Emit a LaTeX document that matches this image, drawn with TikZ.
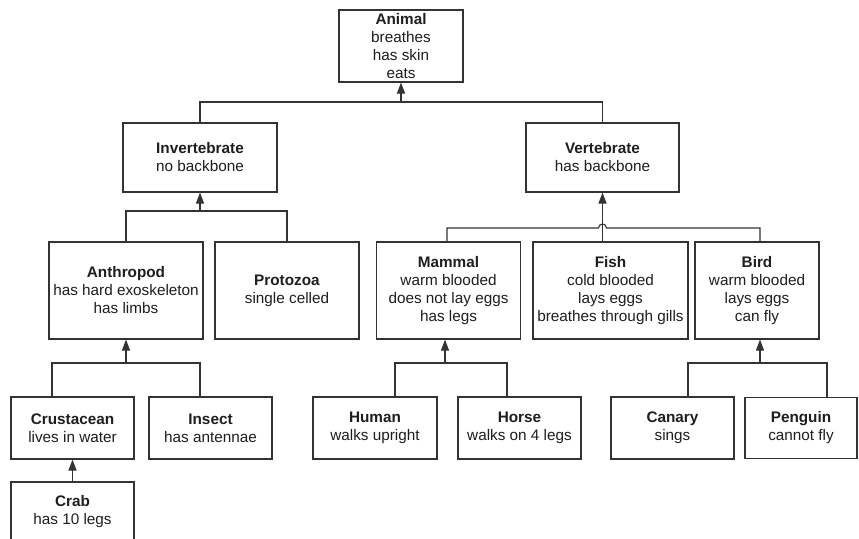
\documentclass[tikz,border=0pt]{standalone}
\usepackage{fontspec}
\setmainfont{Liberation Sans}
\usetikzlibrary{arrows.meta,calc}
\definecolor{linec}{HTML}{333333}
\definecolor{textc}{HTML}{1E1E1E}
\tikzset{
  box/.style={draw=linec, line width=1.1pt, align=center, inner sep=0pt,
    text=textc, font=\fontsize{15.3}{18}\selectfont},
  conn/.style={draw=linec, line width=1.1pt},
  arr/.style={conn, -{Triangle[length=11pt,width=8pt]}}
}
\begin{document}
\begin{tikzpicture}[x=1pt,y=-1pt]
\fill[white] (0,0) rectangle (859,538);
\clip (0,0) rectangle (859,538);
% level 0
\node[box, minimum width=124pt, minimum height=72pt] (animal) at (401,46)
  {\textbf{Animal}\\breathes\\has skin\\eats};
% level 1
\node[box, minimum width=154pt, minimum height=69pt] (invert) at (200,157.5)
  {\textbf{Invertebrate}\\no backbone};
\node[box, minimum width=153pt, minimum height=69pt] (vert) at (602.5,157.5)
  {\textbf{Vertebrate}\\has backbone};
% level 2
\node[box, minimum width=154pt, minimum height=97pt] (anthro) at (126,290.5)
  {\textbf{Anthropod}\\has hard exoskeleton\\has limbs};
\node[box, minimum width=144pt, minimum height=97pt] (proto) at (287,290.5)
  {\textbf{Protozoa}\\single celled};
\node[box, minimum width=144pt, minimum height=97pt] (mammal) at (448.5,290.5)
  {\textbf{Mammal}\\warm blooded\\does not lay eggs\\has legs};
\node[box, minimum width=155pt, minimum height=97pt] (fish) at (610.5,290.5)
  {\textbf{Fish}\\cold blooded\\lays eggs\\breathes through gills};
\node[box, minimum width=124pt, minimum height=97pt] (bird) at (757,290.5)
  {\textbf{Bird}\\warm blooded\\lays eggs\\can fly};
% level 3
\node[box, minimum width=123pt, minimum height=62pt] (crust) at (72.5,428)
  {\textbf{Crustacean}\\lives in water};
\node[box, minimum width=123pt, minimum height=62pt] (insect) at (210.5,428)
  {\textbf{Insect}\\has antennae};
\node[box, minimum width=124pt, minimum height=62pt] (human) at (375,428)
  {\textbf{Human}\\walks upright};
\node[box, minimum width=123pt, minimum height=62pt] (horse) at (519.5,428)
  {\textbf{Horse}\\walks on 4 legs};
\node[box, minimum width=123pt, minimum height=62pt] (canary) at (672.5,428)
  {\textbf{Canary}\\sings};
\node[box, minimum width=112pt, minimum height=61pt] (penguin) at (801,428)
  {\textbf{Penguin}\\cannot fly};
% level 4
\node[box, minimum width=123pt, minimum height=60pt] (crab) at (72.5,512)
  {\textbf{Crab}\\has 10 legs};
% bus junctions
\coordinate (b1) at (401,102);
\coordinate (b2) at (200,211);
\coordinate (b3l) at (598.5,228);
\coordinate (b4) at (126,363);
\coordinate (b5) at (445,363);
\coordinate (b6) at (760,363);
% animal
\draw[conn] (invert.north) |- (b1) -| (vert.north);
\draw[arr] (b1) -- (animal.south);
% invertebrate
\draw[conn] (anthro.north) |- (b2) -| (proto.north);
\draw[arr] (b2) -- (invert.south);
% vertebrate (bus hops over the fish line)
\draw[conn] ([xshift=-1.5pt]mammal.north) |- (b3l)
  arc[start angle=180, end angle=360, radius=4] -| ([xshift=3pt]bird.north);
\draw[arr] (vert.south |- fish.north) -- (vert.south);
% anthropod
\draw[conn] ([xshift=-20.5pt]crust.north) |- (b4) -| ([xshift=-10.5pt]insect.north);
\draw[arr] (b4) -- (anthro.south);
% crab
\draw[arr] (crab.north) -- (crust.south);
% mammal
\draw[conn] ([xshift=20pt]human.north) |- (b5) -| ([xshift=-12.5pt]horse.north);
\draw[arr] (b5) -- (b5 |- mammal.south);
% bird
\draw[conn] ([xshift=15.5pt]canary.north) |- (b6) -| ([xshift=26pt]penguin.north);
\draw[arr] (b6) -- (b6 |- bird.south);
\end{tikzpicture}
\end{document}
